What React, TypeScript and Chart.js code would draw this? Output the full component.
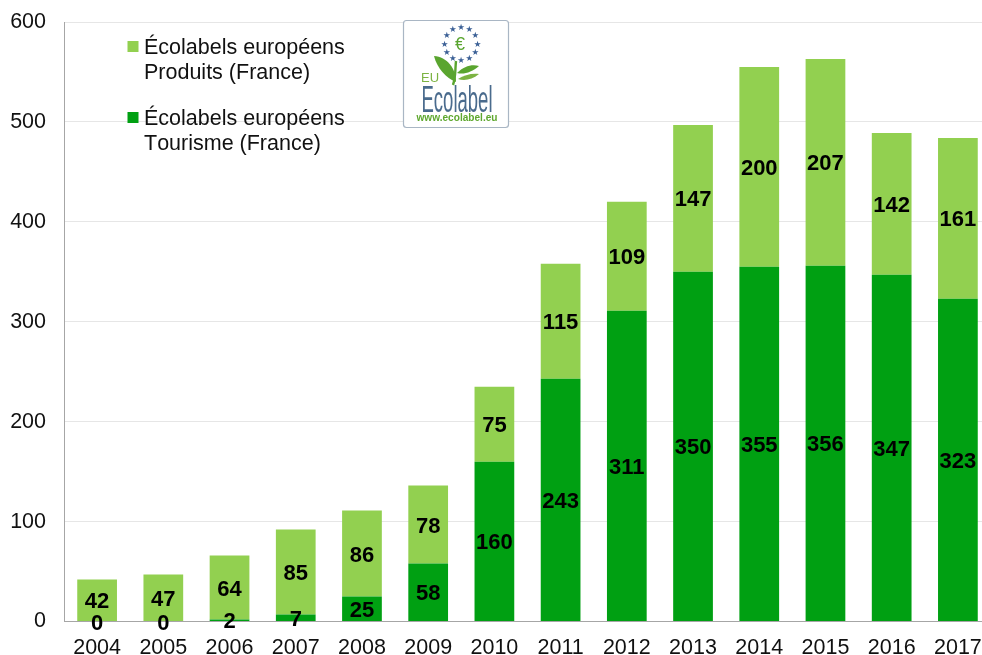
import React, { useEffect, useRef } from "react";
import { Chart, registerables } from "chart.js";

Chart.register(...registerables);

const years = ["2004","2005","2006","2007","2008","2009","2010","2011","2012","2013","2014","2015","2016","2017"];
const tourisme = [0,0,2,7,25,58,160,243,311,350,355,356,347,323];
const produits = [42,47,64,85,86,78,75,115,109,147,200,207,142,161];
const legendLines = [
  ["Écolabels européens", "Produits (France)"],
  ["Écolabels européens", "Tourisme (France)"],
];
const DARK = "#00A012";
const LIGHT = "#92D050";
const FONT = "'Liberation Sans', Arial, sans-serif";

const valueLabels = {
  id: "valueLabels",
  afterDatasetsDraw(chart: any) {
    const ctx = chart.ctx;
    ctx.save();
    ctx.font = `bold 22px ${FONT}`;
    ctx.fillStyle = "#000";
    ctx.textAlign = "center";
    ctx.textBaseline = "middle";
    chart.data.datasets.forEach((ds: any, i: number) => {
      chart.getDatasetMeta(i).data.forEach((el: any, j: number) => {
        const p = el.getCenterPoint(false);
        ctx.fillText(String(ds.data[j]), p.x, p.y + 2);
      });
    });
    ctx.restore();
  },
};

const sideLegend = {
  id: "sideLegend",
  afterDraw(chart: any) {
    const ctx = chart.ctx;
    ctx.save();
    ctx.font = `21.5px ${FONT}`;
    ctx.fontKerning = "none";
    ctx.fillStyle = "#111";
    ctx.textBaseline = "middle";
    const rows = [
      { color: LIGHT, y: 47, lines: legendLines[0] },
      { color: DARK, y: 118, lines: legendLines[1] },
    ];
    rows.forEach((r) => {
      ctx.fillStyle = r.color;
      ctx.fillRect(127.5, r.y - 6, 11, 11);
      ctx.fillStyle = "#111";
      r.lines.forEach((t, k) => ctx.fillText(t, 144, r.y + 1 + k * 25.5));
    });
    ctx.restore();
  },
};

function Logo() {
  const stars = [0,1,2,3,4,5,6,7,8,9,10,11];
  return (
    <svg width={982} height={655} style={{ position: "absolute", left: 0, top: 0, pointerEvents: "none" }}>
      <rect x={403.5} y={20.5} width={105} height={107} rx={3} fill="#fff" stroke="#a9b6c4" strokeWidth={1.2} />
      {stars.map((i) => {
        const a = (i * Math.PI) / 6;
        return (
          <text key={i} x={461 + 16.5 * Math.sin(a)} y={43.5 - 16.5 * Math.cos(a) + 3} fontSize={8.5} fill="#3a5f95" textAnchor="middle" fontFamily="'DejaVu Sans'">★</text>
        );
      })}
      <text x={460} y={50} fontSize={18} fill="#5aa52f" textAnchor="middle" fontFamily={FONT}>€</text>
      <path d="M434 56 C447 57 456 68 456 82 C446 78 437 68 434 56Z" fill="#5aa52f" />
      <path d="M457 73 C464 66 472 64 479 66 C472 72 464 75 457 73Z" fill="#5aa52f" />
      <path d="M458 79 C464 75 472 73 479 74 C472 80 464 81 458 79Z" fill="#7cb342" />
      <path d="M453 85 C456 76 455 70 456 61" stroke="#5aa52f" strokeWidth={2.4} fill="none" />
      <text x={421} y={82} fontSize={13} fill="#7cb342" fontFamily={FONT}>EU</text>
      <text x={421.5} y={112} fontSize={37} fill="#4a6b8d" fontFamily={FONT} textLength={71} lengthAdjust="spacingAndGlyphs">Ecolabel</text>
      <text x={416.5} y={120.5} fontSize={10} fontWeight="bold" fill="#5fa82f" fontFamily={FONT} textLength={81} lengthAdjust="spacingAndGlyphs">www.ecolabel.eu</text>
    </svg>
  );
}

export default function App() {
  const ref = useRef<HTMLCanvasElement>(null);
  useEffect(() => {
    document.body.style.margin = "0";
    const chart = new Chart(ref.current!, {
      type: "bar",
      data: {
        labels: years,
        datasets: [
          { label: "Écolabels européens Tourisme (France)", data: tourisme, backgroundColor: DARK, stack: "s" },
          { label: "Écolabels européens Produits (France)", data: produits, backgroundColor: LIGHT, stack: "s" },
        ],
      },
      options: {
        animation: false,
        responsive: false,
        layout: { padding: { top: 22, right: 4, left: 0, bottom: 0 } },
        plugins: { legend: { display: false }, tooltip: { enabled: false } },
        datasets: { bar: { barPercentage: 0.6, categoryPercentage: 1 } },
        scales: {
          x: {
            stacked: true,
            grid: { display: false },
            border: { color: "#a6a6a6", width: 1 },
            ticks: { color: "#111", font: { family: FONT, size: 21.5 }, padding: 6, maxRotation: 0, autoSkip: false },
            afterFit: (s: any) => { s.height = 33.5; },
          },
          y: {
            stacked: true,
            min: 0,
            max: 600,
            grid: { color: "#e6e6e6", drawTicks: true, tickLength: 18, tickColor: "rgba(0,0,0,0)" },
            border: { color: "#a6a6a6", width: 1 },
            ticks: { stepSize: 100, color: "#111", font: { family: FONT, size: 21.5 }, padding: 0 },
            afterFit: (s: any) => { s.width = 64; },
          },
        },
      },
      plugins: [valueLabels, sideLegend],
    } as any);
    return () => chart.destroy();
  }, []);
  return (
    <div style={{ position: "relative", width: 982, height: 655, overflow: "hidden" }}>
      <canvas ref={ref} width={995} height={655} style={{ display: "block" }} />
      <Logo />
    </div>
  );
}
